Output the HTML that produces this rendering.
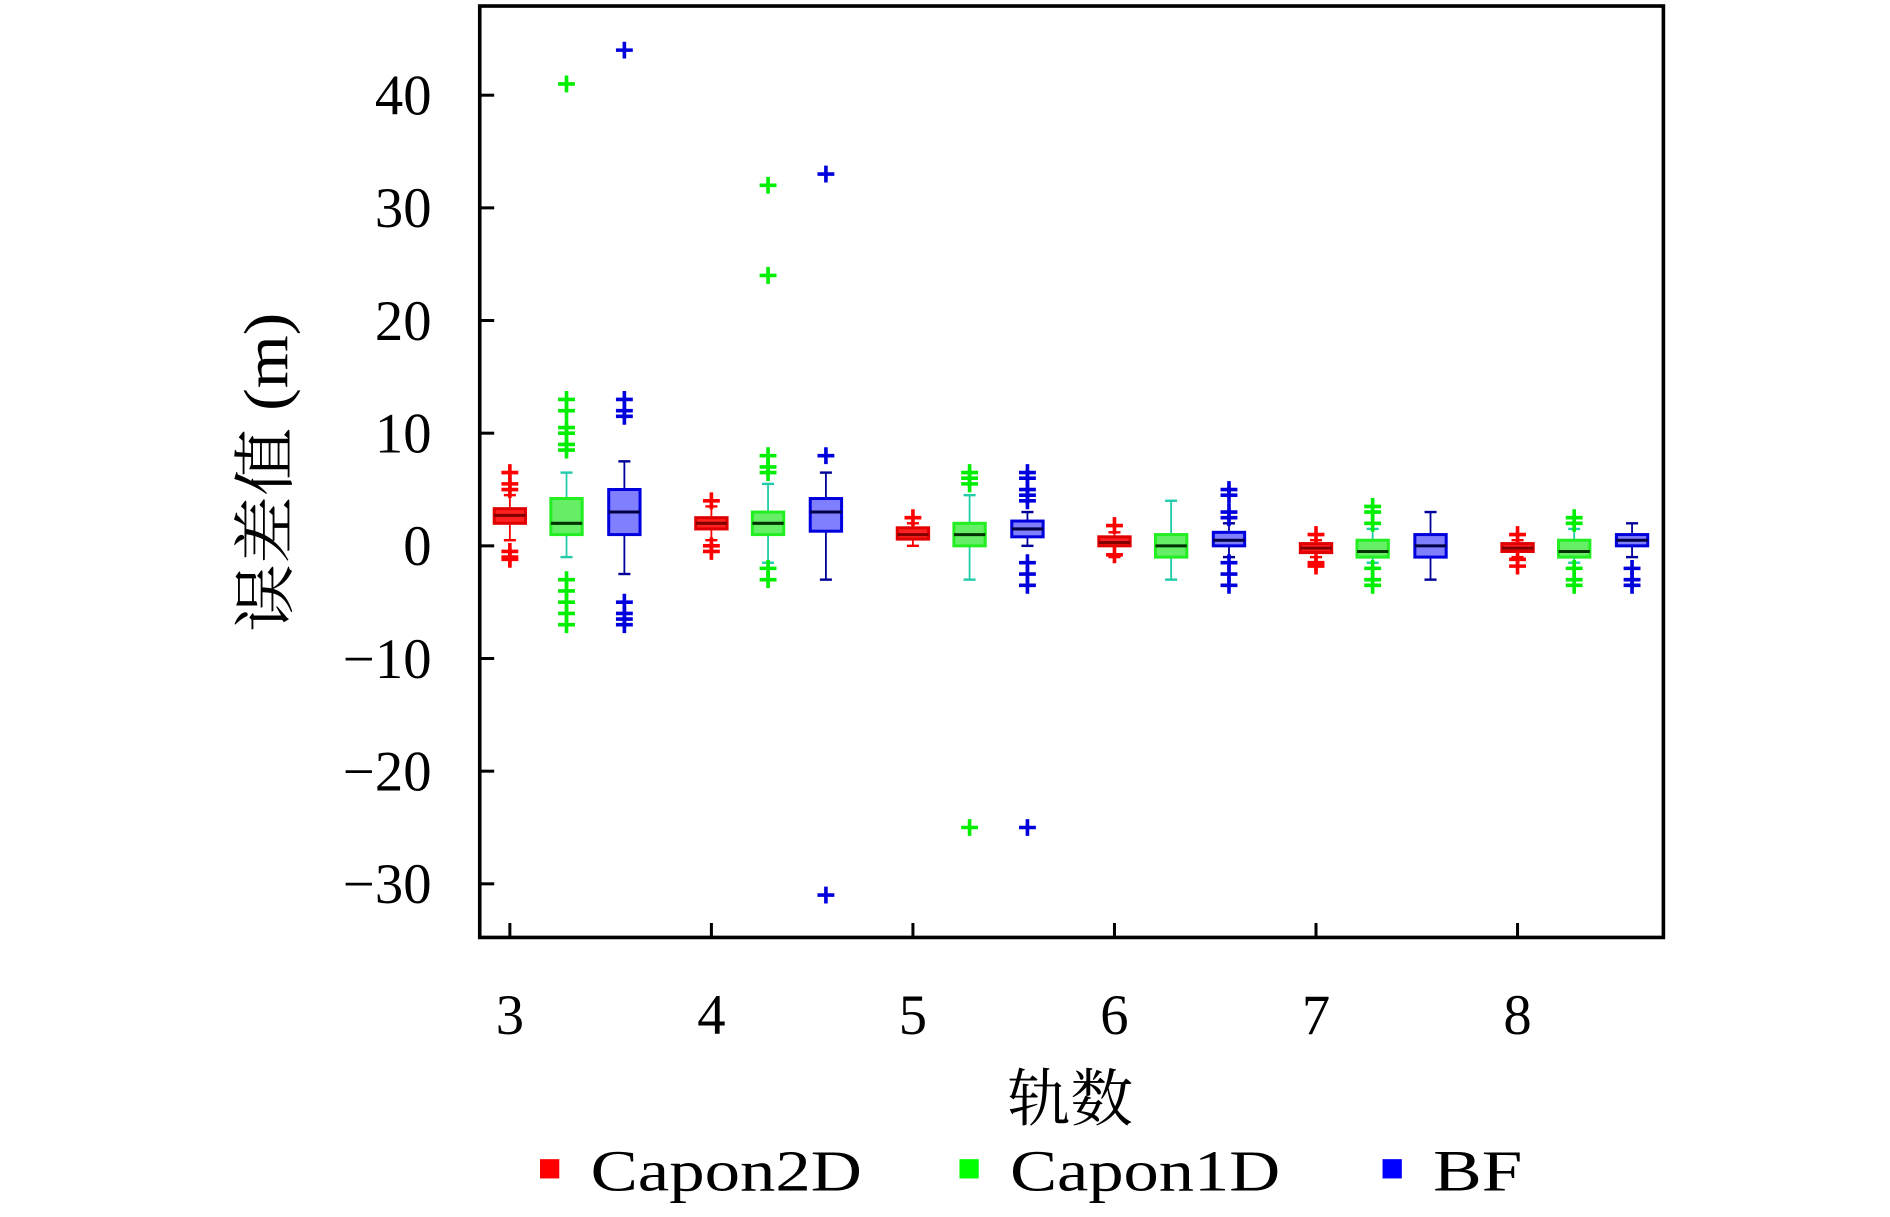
<!DOCTYPE html>
<html><head><meta charset="utf-8">
<style>
html,body{margin:0;padding:0;background:#fff;}
svg{display:block;}
text{font-family:"Liberation Serif","Noto Serif CJK SC",serif;}
</style></head>
<body>
<svg id="chart" width="1890" height="1217" viewBox="0 0 1568 1010" preserveAspectRatio="none" xmlns="http://www.w3.org/2000/svg">
<rect x="0" y="0" width="1568" height="1010" fill="#fff"/>
<g id="marks"></g>
<rect x="398" y="5" width="982" height="773" fill="none" stroke="#000" stroke-width="3"/>
<g id="axes"></g>
<text transform="translate(238,392) rotate(-90)" text-anchor="middle" font-size="52" textLength="265" lengthAdjust="spacingAndGlyphs">误差值 (m)</text>
<text x="888" y="930" text-anchor="middle" font-size="52">轨数</text>
<g>
<rect x="448" y="962" width="16" height="16" fill="#ff0000"/>
<text x="490" y="988" font-size="48" textLength="225" lengthAdjust="spacingAndGlyphs">Capon2D</text>
<rect x="796" y="962" width="16" height="16" fill="#00ff00"/>
<text x="838" y="988" font-size="48" textLength="224" lengthAdjust="spacingAndGlyphs">Capon1D</text>
<rect x="1147" y="962" width="16" height="16" fill="#0000ff"/>
<text x="1189" y="988" font-size="48" textLength="74" lengthAdjust="spacingAndGlyphs">BF</text>
</g>
</svg>
<script>
const categories = [3,4,5,6,7,8];
const seriesNames = ["Capon2D","Capon1D","BF"];
const yTicks = [40,30,20,10,0,-10,-20,-30];
const yTickLabels = ["40","30","20","10","0","\u221210","\u221220","\u221230"];
// [whiskerLow, q1, median, q3, whiskerHigh] per category
const capon2dStats = [[0.5,2,2.7,3.3,4.5],[0.5,1.5,2,2.5,3.5],[0,0.6,1,1.6,2],[-1,0,0.3,0.8,1.2],[-1,-0.6,-0.2,0.2,0.5],[-1,-0.5,-0.2,0.2,0.5]];
const capon1dStats = [[-1,1,2,4.2,6.5],[-1.5,1,2,3,5.5],[-3,0,1,2,4.5],[-3,-1,0,1,4],[-1.5,-1,-0.5,0.5,1.5],[-1.5,-1,-0.5,0.5,1.5]];
const bfStats = [[-2.5,1,3,5,7.5],[-3,1.3,3,4.2,6.5],[0,0.8,1.5,2.2,3],[-1,0,0.5,1.2,2],[-3,-1,0,1,3],[-1,0,0.5,1,2]];
const capon2dOutliers = [[6.5,5.5,5,-0.5,-1,-1.2],[4,0,-0.5],[2.5],[1.8,-0.8],[1,-1.5,-1.8],[1,-1.2,-1.8]];
const capon1dOutliers = [[41,13,12,10.5,10,9,8.5,-3,-4,-5,-6,-7],[32,24,8,7,6.5,-2,-3],[6.5,6,5.5,-25],[],[3.5,3,2,-2,-3,-3.5],[2.5,2,-2,-3,-3.5]];
const bfOutliers = [[44,13,12,11.5,-5,-6,-6.5,-7],[33,8,-31],[6.5,6,5,4.5,4,-1.5,-2.5,-3.5,-25],[5,4.5,3,2.5,-1.5,-2.5,-3.5],[],[-2,-3,-3.5]];

const NS="http://www.w3.org/2000/svg";
function yS(v){return 453-9.35*v;}
function xS(c){return 423+(c-3)*167.2;}
const offsets=[0,47,95];
const styles=[{fill:"#ff2020",stroke:"#e00000",med:"#800000",wh:"#ff0000",out:"#ff0000"},
              {fill:"#66ee66",stroke:"#22ee22",med:"#003300",wh:"#22ccaa",out:"#00ee00"},
              {fill:"#8080ff",stroke:"#0000dd",med:"#000044",wh:"#000099",out:"#0000dd"}];
const stats=[capon2dStats,capon1dStats,bfStats];
const outs=[capon2dOutliers,capon1dOutliers,bfOutliers];
function mk(tag,attrs,parent){const e=document.createElementNS(NS,tag);for(const k in attrs)e.setAttribute(k,attrs[k]);parent.appendChild(e);return e;}
const marks=document.getElementById('marks');
const axes=document.getElementById('axes');
const hw=13;
categories.forEach((c,ci)=>{
  for(let s=0;s<3;s++){
    const st=styles[s], d=stats[s][ci], x=xS(c)+offsets[s];
    const g=mk('g',{},marks);
    
    
    mk('line',{x1:x,x2:x,y1:yS(d[0]),y2:yS(d[1]),stroke:st.wh,'stroke-width':1.5},g);
    mk('line',{x1:x,x2:x,y1:yS(d[3]),y2:yS(d[4]),stroke:st.wh,'stroke-width':1.5},g);
    mk('line',{x1:x-5,x2:x+5,y1:yS(d[0]),y2:yS(d[0]),stroke:st.wh,'stroke-width':2},g);
    mk('line',{x1:x-5,x2:x+5,y1:yS(d[4]),y2:yS(d[4]),stroke:st.wh,'stroke-width':2},g);
    mk('rect',{x:x-hw,y:yS(d[3]),width:2*hw,height:yS(d[1])-yS(d[3]),fill:st.fill,stroke:st.stroke,'stroke-width':2.5},g);
    mk('line',{x1:x-hw,x2:x+hw,y1:yS(d[2]),y2:yS(d[2]),stroke:st.med,'stroke-width':2.5},g);
    outs[s][ci].forEach(v=>{
      const p=mk('path',{d:`M${x-7},${yS(v)}H${x+7}M${x},${yS(v)-7}V${yS(v)+7}`,stroke:st.out,'stroke-width':3,fill:'none'},marks);
      
      
    });
  }
});
yTicks.forEach((v,i)=>{
  const y=yS(v);
  mk('line',{x1:399,x2:410,y1:y,y2:y,stroke:'#000','stroke-width':2.5},axes);
  const t=mk('text',{x:358,y:y+16,'text-anchor':'end','font-size':47},axes);
  t.textContent=yTickLabels[i];
  
  
});
categories.forEach(c=>{
  const x=xS(c);
  mk('line',{x1:x,x2:x,y1:777,y2:766,stroke:'#000','stroke-width':2.5},axes);
  const t=mk('text',{x:x,y:858,'text-anchor':'middle','font-size':47},axes);
  t.textContent=String(c);
  
  
});
</script>
</body></html>
